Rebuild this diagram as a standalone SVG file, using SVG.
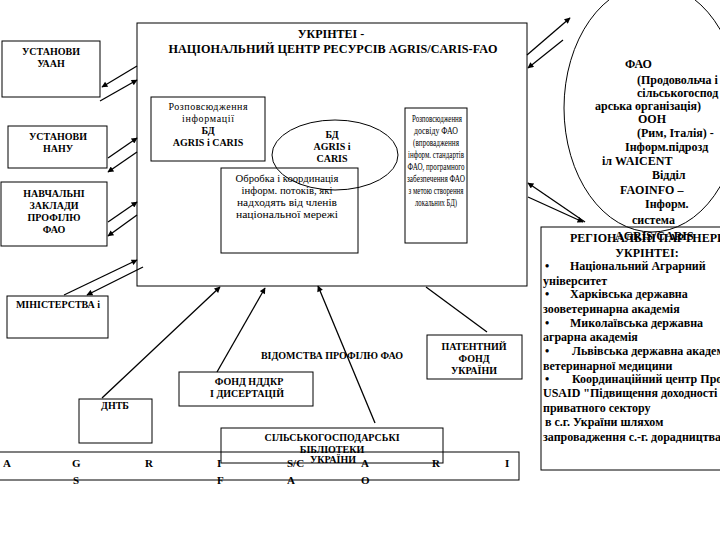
<svg xmlns="http://www.w3.org/2000/svg" width="720" height="540" viewBox="0 0 720 540">
<style>
.bx{fill:none;stroke:#000;stroke-width:1}
.t{font-family:"Liberation Serif","Times New Roman",serif;fill:#000}
.b{font-weight:bold}
.s10{font-size:10px}
.s11{font-size:11px}
.s12{font-size:12px}
.c{text-anchor:middle}
.cn line{stroke:#000;stroke-width:1.3}
</style>
<defs>
<marker id="ah" viewBox="0 0 10 10" refX="9" refY="5" markerWidth="8" markerHeight="6" markerUnits="userSpaceOnUse" orient="auto">
<path d="M0,0 L10,5 L0,10 z" fill="#000"/>
</marker>
</defs>
<rect width="720" height="540" fill="#fff"/>

<g id="main">
<rect class="bx" x="137" y="23" width="390" height="263"/>
<text class="t b s12 c" x="331" y="38">УКРІНТЕІ -</text>
<text class="t b s12 c" x="333" y="53" textLength="329" lengthAdjust="spacingAndGlyphs">НАЦІОНАЛЬНИЙ ЦЕНТР РЕСУРСІВ AGRIS/CARIS-FAO</text>
</g>

<g id="rozp1">
<rect class="bx" x="151" y="97" width="114" height="64"/>
<text class="t s10 c" x="208" y="110" textLength="79" lengthAdjust="spacing">Розповсюдження</text>
<text class="t s10 c" x="208" y="122" textLength="52" lengthAdjust="spacing">інформації</text>
<text class="t s10 c b" x="208" y="134">БД</text>
<text class="t s10 c b" x="208" y="146">AGRIS і CARIS</text>
</g>

<g id="bd">
<ellipse class="bx" cx="335" cy="155" rx="63" ry="35"/>
<text class="t s10 c b" x="332" y="138">БД</text>
<text class="t s10 c b" x="332" y="150">AGRIS і</text>
<text class="t s10 c b" x="332" y="162">CARIS</text>
</g>

<g id="obrobka">
<rect class="bx" x="221" y="168" width="137" height="85"/>
<text class="t s10 c" x="287" y="182" textLength="103" lengthAdjust="spacingAndGlyphs">Обробка і координація</text>
<text class="t s10 c" x="287" y="194" textLength="91" lengthAdjust="spacingAndGlyphs">інформ. потоків, які</text>
<text class="t s10 c" x="287" y="206" textLength="100" lengthAdjust="spacingAndGlyphs">надходять від  членів</text>
<text class="t s10 c" x="287" y="218" textLength="102" lengthAdjust="spacingAndGlyphs">національної мережі</text>
</g>

<g id="rozp2">
<rect class="bx" x="405" y="108" width="62" height="135"/>
<text class="t s10 c" x="437" y="122" textLength="50" lengthAdjust="spacingAndGlyphs">Розповсюдження</text>
<text class="t s10 c" x="436" y="134" textLength="44" lengthAdjust="spacingAndGlyphs">досвіду ФАО</text>
<text class="t s10 c" x="436" y="146" textLength="46" lengthAdjust="spacingAndGlyphs">(впровадження</text>
<text class="t s10 c" x="436" y="158" textLength="56" lengthAdjust="spacingAndGlyphs">інформ. стандартів</text>
<text class="t s10 c" x="436" y="170" textLength="57" lengthAdjust="spacingAndGlyphs">ФАО, програмного</text>
<text class="t s10 c" x="436" y="182" textLength="58" lengthAdjust="spacingAndGlyphs">забезпечення ФАО</text>
<text class="t s10 c" x="436" y="194" textLength="55" lengthAdjust="spacingAndGlyphs">з метою створення</text>
<text class="t s10 c" x="436" y="206" textLength="42" lengthAdjust="spacingAndGlyphs">локальних БД)</text>
</g>

<g id="uaan">
<rect class="bx" x="2" y="41" width="98" height="56"/>
<text class="t b s10 c" x="51" y="55">УСТАНОВИ</text>
<text class="t b s10 c" x="51" y="67">УААН</text>
</g>

<g id="nanu">
<rect class="bx" x="8" y="126" width="99" height="42"/>
<text class="t b s10 c" x="58" y="140">УСТАНОВИ</text>
<text class="t b s10 c" x="58" y="152">НАНУ</text>
</g>

<g id="navch">
<rect class="bx" x="1" y="182" width="106" height="64"/>
<text class="t b s10 c" x="54" y="197">НАВЧАЛЬНІ</text>
<text class="t b s10 c" x="54" y="209">ЗАКЛАДИ</text>
<text class="t b s10 c" x="54" y="221">ПРОФІЛЮ</text>
<text class="t b s10 c" x="54" y="233">ФАО</text>
</g>

<g id="minist">
<rect class="bx" x="7" y="296" width="101" height="42"/>
<text class="t b s10 c" x="58" y="308">МІНІСТЕРСТВА і</text>
</g>

<g id="vidomstva">
<text class="t b s10 c" x="332" y="359">ВІДОМСТВА ПРОФІЛЮ ФАО</text>
</g>

<g id="dntb">
<rect class="bx" x="79" y="399" width="73" height="44"/>
<text class="t b s10 c" x="115" y="409">ДНТБ</text>
</g>

<g id="fond">
<rect class="bx" x="179" y="372" width="134" height="34"/>
<text class="t b s10 c" x="249" y="385">ФОНД НДДКР</text>
<text class="t b s10 c" x="247" y="397">І ДИСЕРТАЦІЙ</text>
</g>

<g id="patent">
<rect class="bx" x="427" y="335" width="95" height="44"/>
<text class="t b s10 c" x="474" y="350">ПАТЕНТНИЙ</text>
<text class="t b s10 c" x="474" y="362">ФОНД</text>
<text class="t b s10 c" x="474" y="374">УКРАЇНИ</text>
</g>

<g id="band">
<rect class="bx" x="-1" y="452" width="520" height="28"/>
<text class="t b s11" x="3" y="467">A</text>
<text class="t b s11" x="72" y="467">G</text>
<text class="t b s11" x="145" y="467">R</text>
<text class="t b s11" x="217" y="467">I</text>
<text class="t b s11" x="287" y="467">S/C</text>
<text class="t b s11" x="361" y="467">A</text>
<text class="t b s11" x="432" y="467">R</text>
<text class="t b s11" x="505" y="467">I</text>
<text class="t b s11" x="73" y="484">S</text>
<text class="t b s11" x="217" y="484">F</text>
<text class="t b s11" x="287" y="484">A</text>
<text class="t b s11" x="361" y="484">O</text>
</g>

<g id="biblio">
<rect class="bx" x="221" y="428" width="222" height="35"/>
<text class="t b s10 c" x="332" y="441">СІЛЬСЬКОГОСПОДАРСЬКІ</text>
<text class="t b s10 c" x="332" y="453">БІБЛІОТЕКИ</text>
<text class="t b s10 c" x="333" y="463">УКРАЇНИ</text>
</g>

<g id="fao">
<ellipse class="bx" cx="652" cy="108" rx="88" ry="124"/>
<text class="t b s12" x="625" y="68">ФАО</text>
<text class="t b s12" x="637" y="84">(Продовольча і</text>
<text class="t b s12" x="637" y="97">сільськогоспод</text>
<text class="t b s12" x="595" y="110">арська організація)</text>
<text class="t b s12" x="638" y="123">ООН</text>
<text class="t b s12" x="637" y="137">(Рим, Італія) -</text>
<text class="t b s12" x="625" y="151">Інформ.підрозд</text>
<text class="t b s12" x="602" y="165">іл WAICENT</text>
<text class="t b s12" x="652" y="179">Відділ</text>
<text class="t b s12" x="620" y="194">FAOINFO –</text>
<text class="t b s12" x="645" y="208">Інформ.</text>
<text class="t b s12" x="632" y="224">система</text>
<text class="t b s12" x="615" y="240">AGRIS/CARIS</text>
</g>

<g id="partners">
<rect class="bx" x="541" y="227" width="190" height="243"/>
<text class="t b s12" x="570" y="242">РЕГІОНАЛЬНІ ПАРТНЕРИ</text>
<text class="t b s12 c" x="647" y="257">УКРІНТЕІ:</text>
<text class="t b s12" x="545" y="270">•</text><text class="t b s12" x="570" y="270">Національний Аграрний</text>
<text class="t b s12" x="543" y="285">університет</text>
<text class="t b s12" x="545" y="298">•</text><text class="t b s12" x="570" y="298">Харківська державна</text>
<text class="t b s12" x="543" y="313">зооветеринарна академія</text>
<text class="t b s12" x="545" y="327">•</text><text class="t b s12" x="570" y="327">Миколаївська державна</text>
<text class="t b s12" x="543" y="341">аграрна академія</text>
<text class="t b s12" x="545" y="355">•</text><text class="t b s12" x="572" y="355">Львівська державна академія</text>
<text class="t b s12" x="543" y="370">ветеринарної медицини</text>
<text class="t b s12" x="545" y="383">•</text><text class="t b s12" x="572" y="383">Координаційний центр Проекту</text>
<text class="t b s12" x="543" y="397">USAID "Підвищення  доходності</text>
<text class="t b s12" x="543" y="412">приватного сектору</text>
<text class="t b s12" x="545" y="426">в с.г. України шляхом</text>
<text class="t b s12" x="543" y="441">запровадження с.-г. дорадництва</text>
</g>

<g id="connectors" class="cn">
<line x1="137" y1="66" x2="102" y2="87" marker-end="url(#ah)"/>
<line x1="100" y1="101" x2="137" y2="80" marker-end="url(#ah)"/>
<line x1="108" y1="158" x2="137" y2="138" marker-end="url(#ah)"/>
<line x1="137" y1="152" x2="108" y2="172" marker-end="url(#ah)"/>
<line x1="108" y1="222" x2="137" y2="202" marker-end="url(#ah)"/>
<line x1="137" y1="215" x2="108" y2="236" marker-end="url(#ah)"/>
<line x1="64" y1="295" x2="137" y2="260" marker-end="url(#ah)"/>
<line x1="143" y1="267" x2="87" y2="295" marker-end="url(#ah)"/>
<line x1="102" y1="398" x2="220" y2="287" marker-end="url(#ah)"/>
<line x1="217" y1="372" x2="265" y2="288" marker-end="url(#ah)"/>
<line x1="375" y1="423" x2="318" y2="286" marker-end="url(#ah)"/>
<line x1="487" y1="332" x2="426" y2="287"/>
<line x1="527" y1="55" x2="570" y2="18" marker-end="url(#ah)"/>
<line x1="563" y1="40" x2="528" y2="68" marker-end="url(#ah)"/>
<line x1="585" y1="222" x2="528" y2="183" marker-end="url(#ah)"/>
<line x1="528" y1="197" x2="583" y2="222" marker-end="url(#ah)"/>
</g>
</svg>
